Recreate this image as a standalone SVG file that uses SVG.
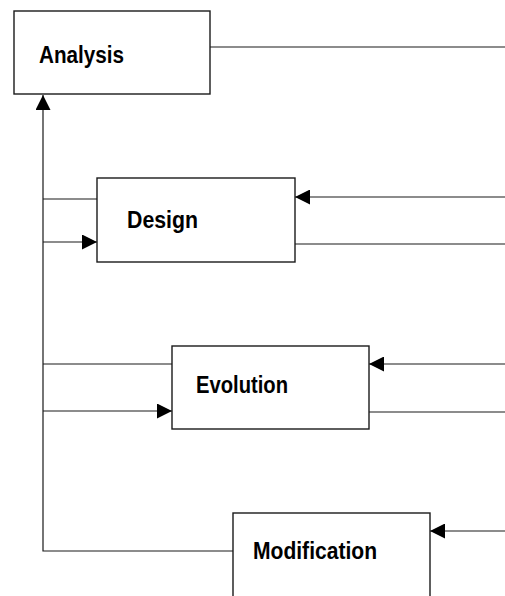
<svg xmlns="http://www.w3.org/2000/svg" width="505" height="596" viewBox="0 0 505 596">
  <style>
    .box { fill: #ffffff; stroke: #1a1a1a; stroke-width: 1.4; }
    .label { font-family: "Liberation Sans", Arial, sans-serif; font-weight: bold; font-size: 23px; fill: #000000; }
    .wire { fill: none; stroke: #1a1a1a; stroke-width: 1.2; }
  </style>
  <defs>
    <marker id="head" viewBox="0 0 15 15" refX="15" refY="7.5" markerWidth="15" markerHeight="15" markerUnits="userSpaceOnUse" orient="auto">
      <path d="M0,0 L15,7.5 L0,15 Z" fill="#000000"/>
    </marker>
  </defs>
  <rect width="505" height="596" fill="#ffffff"/>

  <g id="connectors">
    <!-- trunk back up to Analysis -->
    <path class="wire" d="M233,551 H43 V95" marker-end="url(#head)"/>
    <!-- Analysis outgoing -->
    <path class="wire" d="M210,47 H505"/>
    <!-- Design -->
    <path class="wire" d="M43,199 H97"/>
    <path class="wire" d="M43,242 H97" marker-end="url(#head)"/>
    <path class="wire" d="M505,197 H295" marker-end="url(#head)"/>
    <path class="wire" d="M295,244 H505"/>
    <!-- Evolution -->
    <path class="wire" d="M43,364 H172"/>
    <path class="wire" d="M43,411 H172" marker-end="url(#head)"/>
    <path class="wire" d="M505,364 H369" marker-end="url(#head)"/>
    <path class="wire" d="M369,412 H505"/>
    <!-- Modification -->
    <path class="wire" d="M505,531 H430" marker-end="url(#head)"/>
  </g>

  <g id="analysis">
    <rect class="box" x="14" y="11" width="196" height="83"/>
    <text class="label" x="39" y="63" textLength="85" lengthAdjust="spacingAndGlyphs">Analysis</text>
  </g>

  <g id="design">
    <rect class="box" x="97" y="178" width="198" height="84"/>
    <text class="label" x="127" y="228" textLength="71" lengthAdjust="spacingAndGlyphs">Design</text>
  </g>

  <g id="evolution">
    <rect class="box" x="172" y="346" width="197" height="83"/>
    <text class="label" x="196" y="393" textLength="92" lengthAdjust="spacingAndGlyphs">Evolution</text>
  </g>

  <g id="modification">
    <rect class="box" x="233" y="513" width="197" height="100"/>
    <text class="label" x="253" y="559" textLength="124" lengthAdjust="spacingAndGlyphs">Modification</text>
  </g>
</svg>
